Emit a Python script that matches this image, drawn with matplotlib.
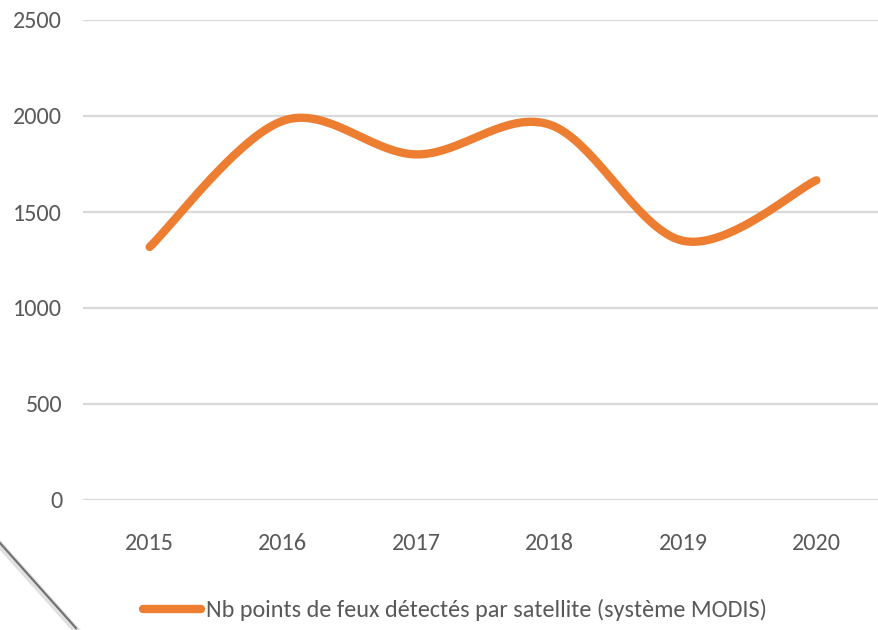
import numpy as np
import matplotlib.pyplot as plt
from matplotlib.lines import Line2D
from matplotlib import font_manager

# Data
years = ['2015', '2016', '2017', '2018', '2019', '2020']
fire_points = [1318, 1975, 1800, 1955, 1350, 1665]
yticks = [0, 500, 1000, 1500, 2000, 2500]
series_label = 'Nb points de feux détectés par satellite (système MODIS)'

# pick a narrow font if one is around (the original looks like Calibri)
names = {f.name for f in font_manager.fontManager.ttflist}
family = 'Lato'
for cand in ['Carlito', 'Liberation Sans Narrow', 'DejaVu Sans Condensed']:
    if cand in names:
        family = cand
        break
plt.rcParams['font.family'] = [family, 'DejaVu Sans']
if family == 'DejaVu Sans Condensed':
    plt.rcParams['font.stretch'] = 'condensed'
text_color = '#595959'
orange = '#ED7D31'


# Excel style smoothed line: cubic Bezier with Catmull-Rom control points
def smooth(xs, ys, n=40):
    xs = np.asarray(xs, float)
    ys = np.asarray(ys, float)
    px = np.concatenate([[xs[0]], xs, [xs[-1]]])
    py = np.concatenate([[ys[0]], ys, [ys[-1]]])
    out_x, out_y = [], []
    t = np.linspace(0, 1, n)
    for i in range(1, len(px) - 2):
        x0, y0 = px[i], py[i]
        x3, y3 = px[i + 1], py[i + 1]
        x1 = x0 + (px[i + 1] - px[i - 1]) / 6
        y1 = y0 + (py[i + 1] - py[i - 1]) / 6
        x2 = x3 - (px[i + 2] - px[i]) / 6
        y2 = y3 - (py[i + 2] - py[i]) / 6
        bx = (1 - t)**3 * x0 + 3 * (1 - t)**2 * t * x1 + 3 * (1 - t) * t**2 * x2 + t**3 * x3
        by = (1 - t)**3 * y0 + 3 * (1 - t)**2 * t * y1 + 3 * (1 - t) * t**2 * y2 + t**3 * y3
        out_x.extend(bx)
        out_y.extend(by)
    return np.array(out_x), np.array(out_y)


fs = 17.4

fig = plt.figure(figsize=(8.79, 6.3), dpi=100)
# the plot area runs past the right edge of the picture (cropped screenshot)
ax = fig.add_axes([83 / 879, 130 / 630, 800 / 879, 480 / 630])

x = np.arange(len(years))
sx, sy = smooth(x, fire_points)
ax.plot(sx, sy, color=orange, linewidth=6, solid_capstyle='round', zorder=3,
        label=series_label)

ax.set_xlim(-0.5, len(years) - 0.5)
ax.set_ylim(0, 2500)
ax.set_yticks(yticks)
ax.set_xticks(x)
ax.set_xticklabels(years)
ax.grid(axis='y', color='#D9D9D9', linewidth=1.6)
ax.set_axisbelow(True)
for s in ax.spines.values():
    s.set_visible(False)
ax.tick_params(axis='both', length=0, labelsize=fs, colors=text_color)
ax.tick_params(axis='y', pad=15)
ax.tick_params(axis='x', pad=24)

leg = fig.legend(loc='center', bbox_to_anchor=(455 / 879, 1 - 610 / 630), frameon=False,
                 fontsize=fs, handlelength=2.4, handletextpad=0.2, labelcolor=text_color)

# shadow line in the lower left corner
fig.add_artist(Line2D([0, 76 / 879], [1 - 545 / 630, 0], transform=fig.transFigure,
                      color='#E0E0E0', linewidth=5))
fig.add_artist(Line2D([0, 76 / 879], [1 - 543 / 630, 0.003], transform=fig.transFigure,
                      color='#707070', linewidth=1.5))

fig.savefig('out.png', dpi=100)
